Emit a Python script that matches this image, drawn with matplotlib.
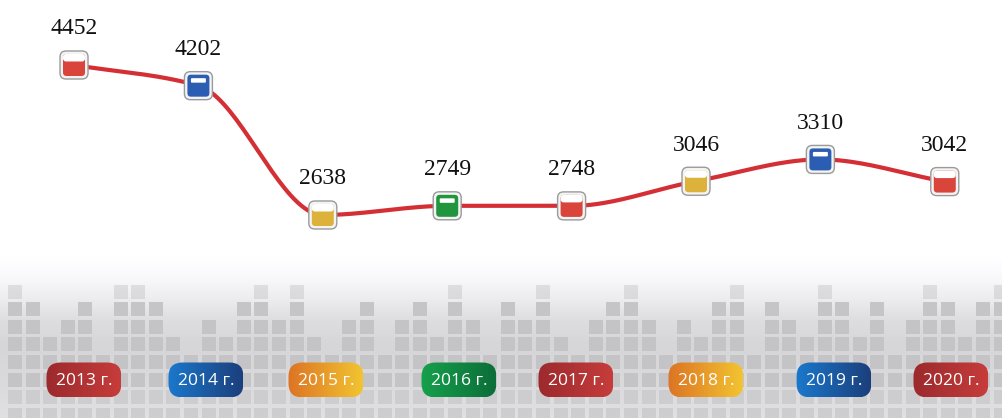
import numpy as np
import matplotlib.pyplot as plt
from matplotlib.patches import FancyBboxPatch, Rectangle
from matplotlib.transforms import ScaledTranslation

# data
years = ["2013 г.", "2014 г.", "2015 г.", "2016 г.", "2017 г.", "2018 г.", "2019 г.", "2020 г."]
values = [4452, 4202, 2638, 2749, 2748, 3046, 3310, 3042]
marker_colors = ["#d9443b", "#2b5db3", "#dcb23a", "#22963f",
                 "#d9443b", "#dcb23a", "#2b5db3", "#d9443b"]
pill_colors = [("#9c2a2d", "#c63c3b"), ("#1a78cc", "#1c3f7c"), ("#dd7424", "#f2c431"),
               ("#16a04c", "#0c6e39"), ("#9c2a2d", "#c63c3b"), ("#dd7424", "#f2c431"),
               ("#1a78cc", "#1c3f7c"), ("#9c2a2d", "#c63c3b")]

W, H = 1003, 418
fig = plt.figure(figsize=(W / 100, H / 100), dpi=100)

# background layer in pixel coords
bg = fig.add_axes([0, 0, 1, 1])
bg.set_xlim(0, W)
bg.set_ylim(H, 0)
bg.axis("off")

grad_y = np.array([258, 280, 298, 320, 345, 375, 418])
grad_v = np.array([1.0, 0.97, 0.93, 0.87, 0.84, 0.85, 0.88])
yy = np.linspace(258, 418, 200)
g = np.interp(yy, grad_y, grad_v)
img = np.stack([g, g, g + 0.01], axis=-1).clip(0, 1)[:, None, :] * np.ones((1, 2, 1))
bg.imshow(img, extent=(0, W, 418, 258), aspect="auto", zorder=0)

# mosaic of squares (decoration): filled rows per column, counted from the bottom
heights = [7, 6, 4, 5, 6, 3, 7, 7, 6, 4, 3, 5, 4, 6, 7, 5, 7, 4, 3, 5, 6, 3, 5, 6, 4, 7, 5, 3, 6,
           5, 7, 4, 3, 5, 6, 7, 5, 3, 5, 4, 6, 7, 3, 6, 5, 4, 7, 6, 4, 6, 3, 5, 7, 6, 4, 6, 7]
pitch, cell, top = 17.6, 14.0, 267
nrows = 9
for c, h in enumerate(heights):
    x0 = 8 + c * pitch
    for r in range(nrows):
        filled = r >= nrows - 1 - h or r >= nrows - 3
        if not filled:
            continue
        y0 = top + r * pitch
        if r <= 1:
            shade, alpha = 0.74, 0.4
        elif r >= nrows - 2:
            shade, alpha = 0.80, 0.9
        else:
            shade, alpha = 0.76, 0.9
        bg.add_patch(Rectangle((x0, y0), cell, cell, facecolor=(shade, shade, shade + 0.01),
                               edgecolor="none", alpha=alpha, zorder=1))

# year pills
pill_px = [84, 206, 326, 459, 576, 706, 834, 951]
pw, ph, pyc = 75, 35, 380
ramp = np.linspace(0, 1, 64)[None, :]
for label, xc, (c1, c2) in zip(years, pill_px, pill_colors):
    box = FancyBboxPatch((xc - pw / 2, pyc - ph / 2), pw, ph,
                         boxstyle="round,pad=0,rounding_size=14",
                         facecolor="none", edgecolor="none", zorder=2)
    bg.add_patch(box)
    a = np.array(plt.matplotlib.colors.to_rgb(c1))
    b = np.array(plt.matplotlib.colors.to_rgb(c2))
    grad = a[None, None, :] * (1 - ramp[..., None]) + b[None, None, :] * ramp[..., None]
    im = bg.imshow(np.repeat(grad, 2, axis=0), extent=(xc - pw / 2, xc + pw / 2, pyc + ph / 2, pyc - ph / 2),
                   aspect="auto", zorder=3)
    im.set_clip_path(box)
    bg.text(xc, pyc + 1, label, ha="center", va="center", color="white",
            fontsize=12.5, family=["Open Sans", "DejaVu Sans"], zorder=4)

# chart layer
ax = fig.add_axes([0, 0, 1, 1])
ax.patch.set_alpha(0)
ax.axis("off")
ax.set_xlim(-0.595, 7.468)
ax.set_ylim(183, 5238)

x = np.arange(len(values))
y = np.array(values, dtype=float)

# monotone cubic (Fritsch-Carlson) for the smooth line
d = np.diff(y)
m = np.zeros_like(y)
m[0], m[-1] = d[0], d[-1]
for i in range(1, len(y) - 1):
    if d[i - 1] * d[i] > 0:
        m[i] = 2 / (1 / d[i - 1] + 1 / d[i])
xf, yf = [], []
for i in range(len(y) - 1):
    t = np.linspace(0, 1, 40)
    h00 = 2 * t**3 - 3 * t**2 + 1
    h10 = t**3 - 2 * t**2 + t
    h01 = -2 * t**3 + 3 * t**2
    h11 = t**3 - t**2
    xf.append(x[i] + t)
    yf.append(h00 * y[i] + h10 * m[i] + h01 * y[i + 1] + h11 * m[i + 1])
ax.plot(np.concatenate(xf), np.concatenate(yf), color="#d42f35", lw=3, zorder=2,
        solid_capstyle="round")

# rounded square markers
for xi, v, col in zip(x, values, marker_colors):
    tr = fig.dpi_scale_trans + ScaledTranslation(xi, v, ax.transData)
    ax.add_patch(FancyBboxPatch((-0.14, -0.14), 0.28, 0.28, boxstyle="round,pad=0,rounding_size=0.06",
                                facecolor="#f4f4f4", edgecolor="#9a9a9a", lw=1, transform=tr, zorder=3))
    ax.add_patch(FancyBboxPatch((-0.11, -0.11), 0.22, 0.22, boxstyle="round,pad=0,rounding_size=0.035",
                                facecolor=col, edgecolor="none", transform=tr, zorder=4))
    if col in ("#2b5db3", "#22963f"):
        ax.add_patch(FancyBboxPatch((-0.075, 0.03), 0.15, 0.045, boxstyle="round,pad=0,rounding_size=0.01",
                                    facecolor="white", edgecolor="none", transform=tr, zorder=5))
    else:
        ax.add_patch(FancyBboxPatch((-0.11, 0.035), 0.22, 0.075, boxstyle="round,pad=0,rounding_size=0.03",
                                    facecolor="white", edgecolor="none", transform=tr, zorder=5))
    ax.annotate(str(v), (xi, v), xytext=(0, 26), textcoords="offset points", ha="center", va="center",
                fontsize=17, family=["Liberation Serif", "DejaVu Serif"], color="#111111", zorder=6)

fig.savefig("out.png", dpi=100, facecolor="white")
